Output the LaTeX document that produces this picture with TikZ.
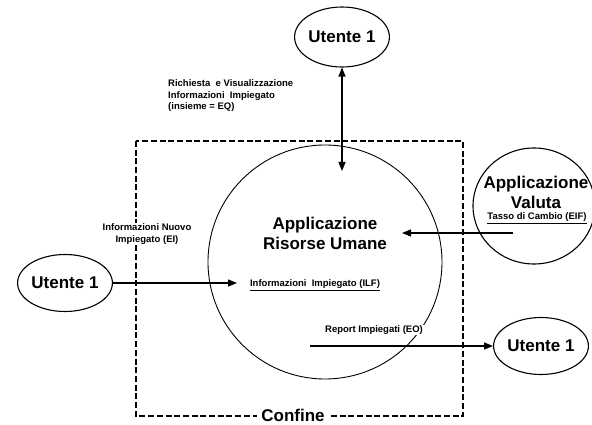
\documentclass[tikz,border=0pt]{standalone}
\usepackage{fontspec}
\setmainfont{Liberation Sans}
\usetikzlibrary{shapes.geometric,arrows.meta}
\begin{document}
\begin{tikzpicture}[x=1pt,y=-1pt,
  big/.style={font=\fontsize{17}{20}\selectfont\bfseries, align=center, inner sep=0pt},
  small/.style={font=\fontsize{9.5}{11.5}\selectfont\bfseries, inner sep=1pt},
  actor/.style={draw, ellipse, line width=1.1pt, inner sep=0pt,
    font=\fontsize{17}{20}\selectfont\bfseries},
  flow/.style={line width=1.3pt, -{Triangle[length=9pt,width=7pt]}},
  boundary/.style={line width=2.3pt, dash pattern=on 6pt off 2.7pt},
]
\useasboundingbox (0,0) rectangle (592,425);

% boundary
\draw[boundary] (136,141) rectangle (463,416);

% main application
\node[draw, circle, line width=0.9pt, minimum size=234pt, inner sep=0pt] (hr) at (325,262) {};
\node[big] (hrname) at (325,233) {Applicazione\\Risorse Umane};
\node[small] (ilf) at (315,285) {\underline{Informazioni\ \ Impiegato (ILF)}};

% external actors
\node[actor, minimum width=80pt, minimum height=60pt] (utop) at (342,37) {Utente 1};
\node[actor, minimum width=80pt, minimum height=57pt] (uleft) at (65,283) {Utente 1};
\node[actor, minimum width=76pt, minimum height=57pt] (uright) at (541,346) {Utente 1};
\node[draw, ellipse, line width=1.1pt, minimum width=122pt, minimum height=116pt, inner sep=0pt] (val) at (534,206) {};
\node[big] (valname) at (536,192) {Applicazione\\Valuta};
\node[small] (eif) at (537,218) {\underline{Tasso di Cambio (EIF)}};

% connector end points
\coordinate (qtip) at (342,171);
\coordinate (eitip) at (237,283);
\coordinate (eifstart) at (513,233);
\coordinate (eiftip) at (402,233);
\coordinate (eostart) at (310,346);

% connectors
\draw[flow, {Triangle[length=9pt,width=7pt]}-{Triangle[length=9pt,width=7pt]}] (utop.south) -- (qtip);
\draw[flow] (uleft.east) -- (eitip);
\draw[flow] (eifstart) -- (eiftip);
\draw[flow] (eostart) -- (uright.west);

% labels
\node[small, align=left, anchor=west] (eq) at (167,96) {Richiesta\ \ e Visualizzazione\\Informazioni\ \ Impiegato\\(insieme = EQ)};
\node[small, align=center, fill=white, inner sep=1pt] (ei) at (147,234) {Informazioni Nuovo\\Impiegato (EI)};
\node[small, fill=white] (eo) at (374,330) {Report Impiegati (EO)};
\node[big, fill=white, inner xsep=4pt, inner ysep=1pt] (confine) at (293,415) {Confine};
\end{tikzpicture}
\end{document}
